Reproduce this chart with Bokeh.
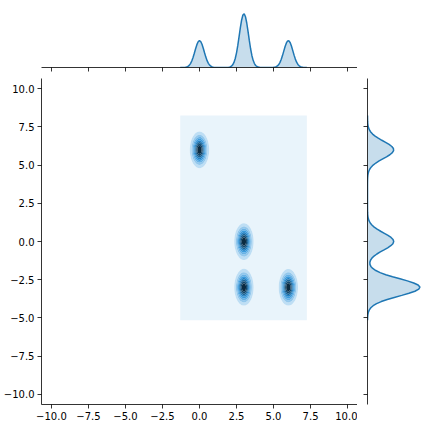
import colorsys
import numpy as np
from bokeh.plotting import figure
from bokeh.layouts import column, row
from bokeh.models import Range1d, FixedTicker, CustomJSTickFormatter
from bokeh.embed import file_html
from bokeh.resources import INLINE

# ---- data ----
cluster_x = [0.0, 3.0, 3.0, 6.0]
cluster_y = [6.0, 0.0, -3.0, -3.0]
cluster_weight = [0.25, 0.25, 0.25, 0.25]
bandwidth_x = 0.31
bandwidth_y = 0.57
kde_x_extent = [-1.3, 7.25]
kde_y_extent = [-5.15, 8.25]
density_levels = [0.0, 0.025, 0.05, 0.075, 0.1, 0.125, 0.15, 0.175, 0.2, 0.225, 0.25]
tick_values = [-10.0, -7.5, -5.0, -2.5, 0.0, 2.5, 5.0, 7.5, 10.0]
axis_limits = [-10.67, 10.67]
grid_size = 100

BLUE = "#1f77b4"
FONT = "DejaVu Sans"

# ---- KDE evaluation ----
gx = np.linspace(kde_x_extent[0], kde_x_extent[1], grid_size)
gy = np.linspace(kde_y_extent[0], kde_y_extent[1], grid_size)
XX, YY = np.meshgrid(gx, gy)
ZZ = np.zeros_like(XX)
dens_x = np.zeros_like(gx)
dens_y = np.zeros_like(gy)
for cx, cy, w in zip(cluster_x, cluster_y, cluster_weight):
    ZZ += w * np.exp(-0.5 * (((XX - cx) / bandwidth_x) ** 2 + ((YY - cy) / bandwidth_y) ** 2)) / (2 * np.pi * bandwidth_x * bandwidth_y)
    dens_x += w * np.exp(-0.5 * ((gx - cx) / bandwidth_x) ** 2) / (np.sqrt(2 * np.pi) * bandwidth_x)
    dens_y += w * np.exp(-0.5 * ((gy - cy) / bandwidth_y) ** 2) / (np.sqrt(2 * np.pi) * bandwidth_y)

# ---- colour map: blue hue from white to black (seaborn jointplot style) ----
r0, g0, b0 = int(BLUE[1:3], 16) / 255, int(BLUE[3:5], 16) / 255, int(BLUE[5:7], 16) / 255
h0, l0, s0 = colorsys.rgb_to_hls(r0, g0, b0)
anchors = [colorsys.hls_to_rgb(h0, l, s0) for l in np.linspace(1, 0, 12)]

def cmap(t):
    pos = t * 11
    i = min(int(np.floor(pos)), 10)
    f = pos - i
    c = [anchors[i][k] * (1 - f) + anchors[i + 1][k] * f for k in range(3)]
    return "#%02x%02x%02x" % tuple(int(round(v * 255)) for v in c)

n_bands = len(density_levels) - 1
band_colors = [cmap((i + 0.5) / n_bands) for i in range(n_bands)]

label_fmt = CustomJSTickFormatter(code="return (tick < 0 ? '\\u2212' : '') + Math.abs(tick).toFixed(1);")
blank_fmt = CustomJSTickFormatter(code="return '';")

def style_axis(ax, labels=True):
    ax.ticker = FixedTicker(ticks=tick_values)
    ax.axis_line_color = "black"
    ax.axis_line_width = 0.8
    ax.major_tick_line_color = "black"
    ax.major_tick_line_width = 0.8
    ax.major_tick_out = 4
    ax.major_tick_in = 0
    ax.minor_tick_line_color = None
    if labels:
        ax.formatter = label_fmt
        ax.major_label_text_font = FONT
        ax.major_label_text_font_size = "10px"
        ax.major_label_text_color = "black"
        ax.major_label_standoff = 3
    else:
        ax.formatter = blank_fmt
        ax.major_label_standoff = 0

x_range = Range1d(axis_limits[0], axis_limits[1])
y_range = Range1d(axis_limits[0], axis_limits[1])

LEFT = 41
FW = 316
FH = 326
# ---- main joint plot ----
main = figure(frame_width=FW, frame_height=FH, x_range=x_range, y_range=y_range,
              output_backend="svg", toolbar_location=None,
              min_border_left=LEFT, min_border_right=0, min_border_top=0, min_border_bottom=26,
              x_axis_location="below", y_axis_location="left")
main.outline_line_color = None
main.grid.grid_line_color = None
main.background_fill_color = "white"
main.contour(XX, YY, ZZ, levels=density_levels, fill_color=band_colors, line_color=None)
style_axis(main.xaxis[0])
style_axis(main.yaxis[0])

# ---- top marginal ----
top_max = float(dens_x.max())
top = figure(frame_width=FW, frame_height=64, x_range=x_range, y_range=Range1d(0, top_max * 64 / 53.7),
             output_backend="svg", toolbar_location=None,
             min_border_left=LEFT, min_border_right=0, min_border_top=3, min_border_bottom=11,
             x_axis_location="below", y_axis_location=None)
top.outline_line_color = None
top.grid.grid_line_color = None
top.varea(x=gx, y1=np.zeros_like(gx), y2=dens_x, fill_color=BLUE, fill_alpha=0.25)
top.line(gx, dens_x, line_color=BLUE, line_width=1.5)
style_axis(top.xaxis[0], labels=False)

# ---- right marginal ----
right_max = float(dens_y.max())
right = figure(frame_width=64, frame_height=FH, x_range=Range1d(0, right_max * 64 / 52.4), y_range=y_range,
               output_backend="svg", toolbar_location=None,
               min_border_left=10, min_border_right=0, min_border_top=0, min_border_bottom=26,
               x_axis_location=None, y_axis_location="left")
right.outline_line_color = None
right.grid.grid_line_color = None
right.harea(y=gy, x1=np.zeros_like(gy), x2=dens_y, fill_color=BLUE, fill_alpha=0.25)
right.line(dens_y, gy, line_color=BLUE, line_width=1.5)
style_axis(right.yaxis[0], labels=False)

p = column(top, row(main, right))
open("out.html", "w").write(file_html(p, INLINE))
